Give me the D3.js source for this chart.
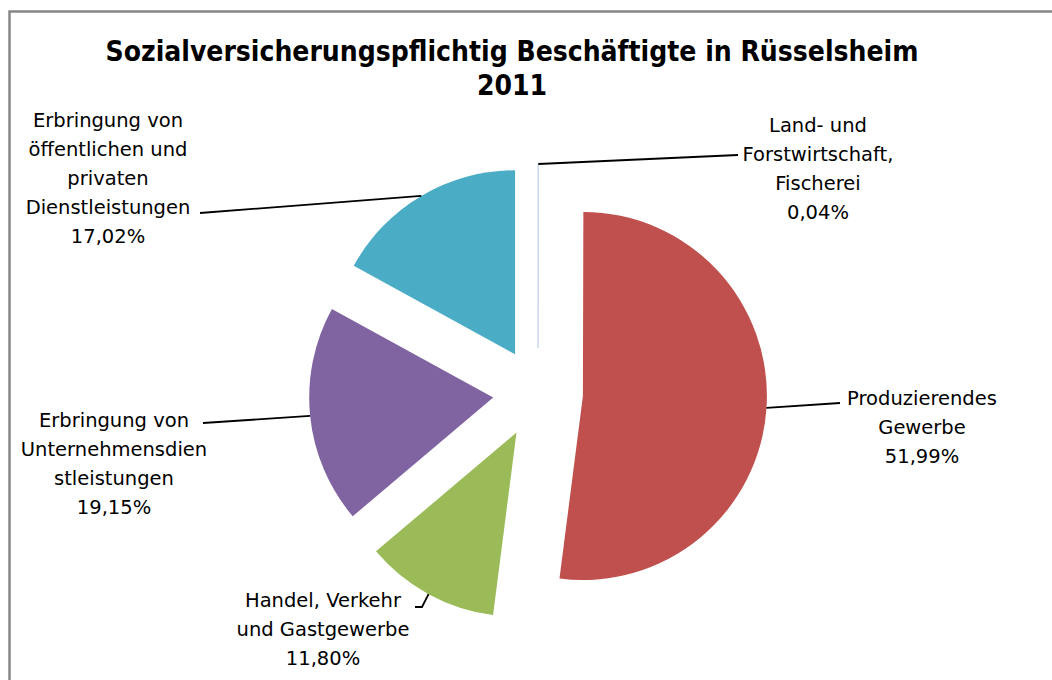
<!DOCTYPE html>
<html>
<head>
<meta charset="utf-8">
<script src="https://cdn.jsdelivr.net/npm/d3@7"></script>
<style>
  body { margin: 0; background: #fff; }
  svg text { font-family: "DejaVu Sans", sans-serif; }
</style>
</head>
<body>
<div id="chart"></div>
<script>
// data
const titleLines = ["Sozialversicherungspflichtig Beschäftigte in Rüsselsheim", "2011"]
const categories = [
  "Land- und Forstwirtschaft, Fischerei",
  "Produzierendes Gewerbe",
  "Handel, Verkehr und Gastgewerbe",
  "Erbringung von Unternehmensdienstleistungen",
  "Erbringung von öffentlichen und privaten Dienstleistungen"
]
const shares = [0.04, 51.99, 11.80, 19.15, 17.02]
const labelLines = [
  ["Land- und", "Forstwirtschaft,", "Fischerei"],
  ["Produzierendes", "Gewerbe"],
  ["Handel, Verkehr", "und Gastgewerbe"],
  ["Erbringung von", "Unternehmensdien", "stleistungen"],
  ["Erbringung von", "öffentlichen und", "privaten", "Dienstleistungen"]
]
const colors = ["#4F81BD", "#C0504D", "#9BBB59", "#8064A2", "#4BACC6"]

const width = 1052, height = 680
const cx = 538, cy = 393, radius = 184, explode = 45

// label placement: centre x, first-line y, leader end point
const labelLayout = [
  { x: 818, y: 132, lx: 738, ly: 155 },
  { x: 922, y: 405, lx: 840, ly: 403 },
  { x: 323, y: 607, lx: 415, ly: 607, bend: true },
  { x: 114, y: 427, lx: 203, ly: 423 },
  { x: 108, y: 127, lx: 200, ly: 213 }
]

const svg = d3.select("#chart").append("svg")
  .attr("width", width)
  .attr("height", height)

// chart frame (cut off at right and bottom)
svg.append("rect")
  .attr("x", 9.5).attr("y", 11.5)
  .attr("width", 1100).attr("height", 800)
  .attr("fill", "none")
  .attr("stroke", "#878787")
  .attr("stroke-width", 2.5)

svg.append("text")
  .attr("x", 512).attr("text-anchor", "middle")
  .style("font-family", "'DejaVu Sans Condensed', 'DejaVu Sans', sans-serif")
  .style("font-weight", "bold")
  .style("font-size", "28px")
  .attr("fill", "#000")
  .selectAll("tspan")
  .data(titleLines)
  .enter().append("tspan")
  .attr("x", 512)
  .attr("y", (d, i) => 61 + i * 34)
  .text(d => d)

const pie = d3.pie().sort(null).value(d => d)
const arcs = pie(shares)
const arc = d3.arc().innerRadius(0).outerRadius(radius)

function polar(a, r) {
  return [Math.sin(a) * r, -Math.cos(a) * r]
}

const g = svg.append("g").attr("transform", `translate(${cx},${cy})`)

const slices = g.selectAll(".slice")
  .data(arcs)
  .enter().append("g")
  .attr("class", "slice")
  .attr("transform", d => {
    const [ox, oy] = polar((d.startAngle + d.endAngle) / 2, explode)
    return `translate(${ox},${oy})`
  })

slices.append("path")
  .attr("d", arc)
  .attr("fill", (d, i) => colors[i])
  .attr("stroke", (d, i) => i === 0 ? "#c9d8ec" : "none")
  .attr("stroke-width", 1)

// leader lines
arcs.forEach((d, i) => {
  const mid = (d.startAngle + d.endAngle) / 2
  const [ox, oy] = polar(mid, explode)
  const [px, py] = polar(mid, radius)
  const sx = cx + ox + px, sy = cy + oy + py
  const L = labelLayout[i]
  let pts = [[sx, sy], [L.lx, L.ly]]
  if (L.bend) pts = [[sx, sy], [L.lx + 7, L.ly], [L.lx, L.ly]]
  svg.append("path")
    .attr("d", d3.line()(pts))
    .attr("fill", "none")
    .attr("stroke", "#000")
    .attr("stroke-width", 1.8)
})

// data labels
arcs.forEach((d, i) => {
  const L = labelLayout[i]
  const lines = labelLines[i].concat([d3.format(".2f")(shares[i]).replace(".", ",") + "%"])
  svg.append("text")
    .attr("text-anchor", "middle")
    .style("font-size", "19.5px")
    .attr("fill", "#000")
    .selectAll("tspan")
    .data(lines)
    .enter().append("tspan")
    .attr("x", L.x)
    .attr("y", (t, j) => L.y + j * 29)
    .text(t => t)
})
</script>
</body>
</html>
